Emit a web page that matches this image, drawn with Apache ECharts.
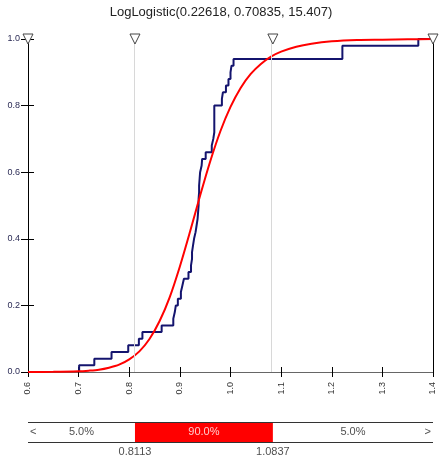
<!DOCTYPE html>
<html>
<head>
<meta charset="utf-8">
<script src="https://cdn.jsdelivr.net/npm/echarts@6/dist/echarts.min.js"></script>
<style>
html, body { margin: 0; padding: 0; background: #fff; }
#chart { width: 442px; height: 462px; }
</style>
</head>
<body>
<div id="chart"></div>
<script>
const titleText = 'LogLogistic(0.22618, 0.70835, 15.407)'

// empirical cumulative steps (x where it jumps, level after jump)
const ecdfX = [0.701, 0.701, 0.731, 0.765, 0.798, 0.819, 0.826, 0.864, 0.887, 0.890,
  0.892, 0.896, 0.902, 0.905, 0.908, 0.917, 0.922, 0.924, 0.924, 0.926,
  0.928, 0.931, 0.933, 0.935, 0.936, 0.937, 0.937, 0.938, 0.938, 0.939,
  0.940, 0.943, 0.944, 0.951, 0.963, 0.966, 0.968, 0.968, 0.968, 0.968,
  0.968, 0.983, 0.985, 0.991, 0.996, 1.000, 1.002, 1.006, 1.221, 1.221,
  1.371, 1.400]
const ecdfY = [0, 0.02, 0.04, 0.06, 0.08, 0.10, 0.12, 0.14, 0.16, 0.18,
  0.20, 0.22, 0.24, 0.26, 0.28, 0.30, 0.32, 0.34, 0.36, 0.38,
  0.40, 0.42, 0.44, 0.46, 0.48, 0.50, 0.52, 0.54, 0.56, 0.58,
  0.60, 0.62, 0.64, 0.66, 0.68, 0.70, 0.72, 0.74, 0.76, 0.78,
  0.80, 0.82, 0.84, 0.86, 0.88, 0.90, 0.92, 0.94, 0.96, 0.98,
  1.00, 1.00]

// fitted curve
const fitX = [0.60, 0.65, 0.70, 0.72, 0.74, 0.76, 0.78, 0.80, 0.82, 0.84,
  0.86, 0.88, 0.90, 0.92, 0.94, 0.96, 0.98, 1.00, 1.02, 1.04,
  1.06, 1.08, 1.10, 1.13, 1.16, 1.20, 1.25, 1.30, 1.35, 1.40]
const fitY = [0.0001, 0.0004, 0.002, 0.004, 0.007, 0.013, 0.022, 0.038, 0.062, 0.099,
  0.153, 0.225, 0.317, 0.421, 0.530, 0.633, 0.723, 0.796, 0.853, 0.895,
  0.925, 0.947, 0.962, 0.977, 0.986, 0.993, 0.997, 0.998, 0.999, 1.000]

const xTicks = { min: 0.6, max: 1.4, step: 0.1 }
const yTicks = { min: 0, max: 1, step: 0.2 }

const markerX = [0.6, 0.8113, 1.0837, 1.4]
const bandEdges = [0.6, 0.8113, 1.0837, 1.4]
const bandPct = ['5.0%', '90.0%', '5.0%']
const bandValues = ['0.8113', '1.0837']

const FONT = '"Liberation Sans", Arial, sans-serif'

const chart = echarts.init(document.getElementById('chart'), null, { renderer: 'canvas' })

const xBase = { type: 'value', min: xTicks.min, max: xTicks.max, interval: xTicks.step, gridIndex: 0 }
const yBase = { type: 'value', min: yTicks.min, max: yTicks.max, interval: yTicks.step, gridIndex: 0 }

const bandTextData = bandPct.map((t, i) => ({
  value: [(bandEdges[i] + bandEdges[i + 1]) / 2, 0.5, t],
  label: { color: i === 1 ? '#fff' : '#222' },
}))
bandTextData.push({ value: [bandEdges[0], 0.5, '<'], label: { position: 'right', distance: 2, color: '#222' } })
bandTextData.push({ value: [bandEdges[3], 0.5, '>'], label: { position: 'left', distance: 2, color: '#222' } })
bandValues.forEach((t, i) => {
  bandTextData.push({ value: [bandEdges[i + 1], 0, t], label: { position: 'bottom', distance: 4, color: '#222' } })
})

chart.setOption({
  animation: false,
  textStyle: { fontFamily: FONT },
  title: {
    text: titleText,
    left: 'center',
    top: 1,
    textStyle: { fontSize: 13, fontWeight: 'normal', color: '#222', fontFamily: FONT },
  },
  grid: [
    { left: 28, right: 9, top: 39, bottom: 90 },
    { left: 28, right: 9, top: 422, height: 20 },
  ],
  xAxis: [
    {
      ...xBase,
      position: 'bottom',
      axisLine: { lineStyle: { color: '#000', width: 1 } },
      axisTick: { length: 5, lineStyle: { color: '#000' } },
      axisLabel: { rotate: 90, margin: 10, fontSize: 9, color: '#333', fontFamily: FONT, formatter: v => v.toFixed(1) },
      splitLine: { show: false },
    },
    {
      ...xBase,
      position: 'bottom',
      axisLine: { show: false },
      axisTick: { inside: true, length: 5, lineStyle: { color: '#000' } },
      axisLabel: { show: false },
      splitLine: { show: false },
    },
    {
      ...xBase,
      position: 'top',
      axisLine: { lineStyle: { color: '#666', width: 1 } },
      axisTick: { show: false },
      axisLabel: { show: false },
      splitLine: { show: false },
    },
    { type: 'value', gridIndex: 1, min: xTicks.min, max: xTicks.max, show: false },
  ],
  yAxis: [
    {
      ...yBase,
      position: 'left',
      axisLine: { show: true, lineStyle: { color: '#000', width: 1 } },
      axisTick: { show: true, length: 7, lineStyle: { color: '#000' } },
      axisLabel: { margin: 8, fontSize: 9, color: '#2b2b55', fontFamily: FONT, formatter: v => v.toFixed(1) },
      splitLine: { show: false },
    },
    {
      ...yBase,
      position: 'left',
      axisLine: { show: false },
      axisTick: { show: true, inside: true, length: 6, lineStyle: { color: '#000' } },
      axisLabel: { show: false },
      splitLine: { show: false },
    },
    {
      ...yBase,
      position: 'right',
      axisLine: { show: true, lineStyle: { color: '#000', width: 1 } },
      axisTick: { show: false },
      axisLabel: { show: false },
      splitLine: { show: false },
    },
    { type: 'value', gridIndex: 1, min: 0, max: 1, show: false },
  ],
  series: [
    {
      name: 'guides',
      type: 'line',
      xAxisIndex: 0,
      yAxisIndex: 0,
      data: [],
      z: 1,
      markLine: {
        silent: true,
        symbol: 'none',
        label: { show: false },
        lineStyle: { color: '#d8d8d8', width: 1, type: 'solid' },
        data: markerX.slice(1, 3).map(x => ({ xAxis: x })),
      },
    },
    {
      name: 'data',
      type: 'line',
      xAxisIndex: 0,
      yAxisIndex: 0,
      step: 'end',
      symbol: 'none',
      z: 3,
      lineStyle: { color: '#14146e', width: 2 },
      data: ecdfX.map((x, i) => [x, ecdfY[i]]),
    },
    {
      name: 'fit',
      type: 'line',
      xAxisIndex: 0,
      yAxisIndex: 0,
      symbol: 'none',
      smooth: 0.3,
      z: 4,
      lineStyle: { color: '#ff0000', width: 2 },
      data: fitX.map((x, i) => [x, fitY[i]]),
    },
    {
      name: 'markers',
      type: 'line',
      xAxisIndex: 0,
      yAxisIndex: 0,
      data: [],
      z: 6,
      markPoint: {
        silent: true,
        symbol: 'path://M0,0 L10,0 L5,10 Z',
        symbolSize: [10, 10],
        label: { show: false },
        itemStyle: { color: '#fff', borderColor: '#444', borderWidth: 1 },
        data: markerX.map(x => ({ coord: [x, 1] })),
      },
    },
    {
      name: 'band',
      type: 'custom',
      xAxisIndex: 3,
      yAxisIndex: 3,
      z: 2,
      data: [[bandEdges[1], bandEdges[2]]],
      encode: { x: [0, 1] },
      renderItem: (params, api) => {
        const a = api.coord([api.value(0), 1])
        const b = api.coord([api.value(1), 0])
        return {
          type: 'rect',
          shape: { x: a[0], y: a[1], width: b[0] - a[0], height: b[1] - a[1] },
          style: { fill: '#ff0000' },
        }
      },
    },
    {
      name: 'bandText',
      type: 'scatter',
      xAxisIndex: 3,
      yAxisIndex: 3,
      symbolSize: 0,
      z: 5,
      label: { show: true, position: 'inside', fontSize: 11, fontFamily: FONT, formatter: p => p.value[2] },
      data: bandTextData,
      markLine: {
        silent: true,
        symbol: 'none',
        label: { show: false },
        lineStyle: { color: '#333', width: 1, type: 'solid' },
        data: [{ yAxis: 0 }, { yAxis: 1 }],
      },
    },
  ],
})
</script>
</body>
</html>
